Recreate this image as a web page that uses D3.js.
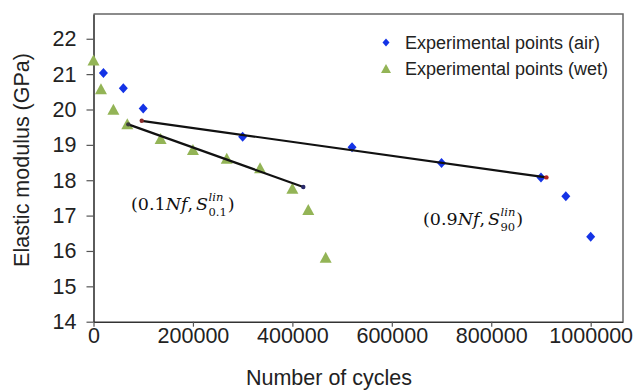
<!DOCTYPE html>
<html>
<head>
<meta charset="utf-8">
<script src="https://cdn.jsdelivr.net/npm/d3@7/dist/d3.min.js"></script>
<style>
  html, body { margin: 0; padding: 0; background: #fff; }
  svg { display: block; }
  .tick text { font-family: "Liberation Sans", Arial, sans-serif; fill: #222; }
</style>
</head>
<body>
<svg id="chart" width="636" height="392"></svg>
<script>
// Elastic modulus measured over fatigue cycles, in air and wet conditions
const airCycles  = [20000, 60000, 100000, 300000, 520000, 700000, 900000, 950000, 1000000];
const airModulus = [21.03, 20.60, 20.03, 19.23, 18.93, 18.49, 18.08, 17.55, 16.40];

const wetCycles  = [0, 15000, 40000, 68000, 135000, 200000, 268000, 335000, 400000, 432000, 467000];
const wetModulus = [21.40, 20.59, 20.01, 19.60, 19.18, 18.87, 18.62, 18.35, 17.77, 17.17, 15.82];

// Linear segments between the 10% and 90% life points
const airFitCycles  = [97000, 911000];
const airFitModulus = [19.68, 18.08];
const wetFitCycles  = [70000, 422000];
const wetFitModulus = [19.58, 17.81];

const xTicks = [0, 200000, 400000, 600000, 800000, 1000000];
const yTicks = [14, 15, 16, 17, 18, 19, 20, 21, 22];

const legendLabels = ["Experimental points (air)", "Experimental points (wet)"];

const svg = d3.select("#chart");
const plot = { left: 93.5, right: 623, top: 14, bottom: 321.7 };

const x = d3.scaleLinear().domain([0, 1065000]).range([plot.left, plot.right]);
const y = d3.scaleLinear().domain([14, 22.7]).range([plot.bottom, plot.top]);

// plot frame (top and right edges)
svg.append("path")
  .attr("d", `M${plot.left},${plot.top}H${plot.right}V${plot.bottom}`)
  .attr("fill", "none").attr("stroke", "#666").attr("stroke-width", 1.5);

// axes
const xAxis = svg.append("g")
  .attr("transform", `translate(0,${plot.bottom})`)
  .call(d3.axisBottom(x).tickValues(xTicks).tickFormat(d3.format("d"))
    .tickSize(5).tickSizeOuter(0).tickPadding(1));
const yAxis = svg.append("g")
  .attr("transform", `translate(${plot.left},0)`)
  .call(d3.axisLeft(y).tickValues(yTicks).tickFormat(d3.format("d"))
    .tickSize(7).tickSizeOuter(0).tickPadding(10));

[xAxis, yAxis].forEach(g => {
  g.select(".domain").attr("stroke", "#333").attr("stroke-width", 1.6);
  g.selectAll(".tick line").attr("stroke", "#555").attr("stroke-width", 1.2);
  g.selectAll(".tick text").style("font-size", "21.5px");
});

// axis titles
svg.append("text")
  .attr("x", 329).attr("y", 385)
  .attr("text-anchor", "middle")
  .style("font-family", "Liberation Sans, Arial, sans-serif")
  .style("font-size", "21.5px").attr("fill", "#222")
  .text("Number of cycles");
svg.append("text")
  .attr("transform", "translate(29,160) rotate(-90)")
  .attr("text-anchor", "middle")
  .style("font-family", "Liberation Sans, Arial, sans-serif")
  .style("font-size", "21.5px").attr("fill", "#222")
  .text("Elastic modulus (GPa)");

// marker shapes
const diamond = (w, h) => `M0,${-h/2}L${w/2},0L0,${h/2}L${-w/2},0Z`;
const triangle = (w, h) => `M0,${-h/2}L${w/2},${h/2}L${-w/2},${h/2}Z`;
const airColor = "#1433e6";
const wetColor = "#93b456";

svg.append("g").selectAll("path")
  .data(wetCycles.map((c, i) => [c, wetModulus[i]]))
  .join("path")
  .attr("transform", d => `translate(${x(d[0])},${y(d[1])})`)
  .attr("d", triangle(12, 11))
  .attr("fill", wetColor);

svg.append("g").selectAll("path")
  .data(airCycles.map((c, i) => [c, airModulus[i]]))
  .join("path")
  .attr("transform", d => `translate(${x(d[0])},${y(d[1])})`)
  .attr("d", diamond(9, 10))
  .attr("fill", airColor);

// linear segments
const line = d3.line().x(d => x(d[0])).y(d => y(d[1]));
const fits = [
  { pts: airFitCycles.map((c, i) => [c, airFitModulus[i]]), ends: ["#8a2b2b", "#b02020"] },
  { pts: wetFitCycles.map((c, i) => [c, wetFitModulus[i]]), ends: ["#3a3a3a", "#2a2a6a"] }
];
fits.forEach(f => {
  svg.append("path").attr("d", line(f.pts))
    .attr("fill", "none").attr("stroke", "#111").attr("stroke-width", 2.2);
  svg.append("g").selectAll("circle").data(f.pts).join("circle")
    .attr("cx", d => x(d[0])).attr("cy", d => y(d[1])).attr("r", 2.2)
    .attr("fill", (d, i) => f.ends[i]);
});

// legend
const legend = svg.append("g");
const legendShapes = [diamond(7, 8), triangle(10, 9)];
const legendColors = [airColor, wetColor];
legendLabels.forEach((lab, i) => {
  const ly = 42.5 + i * 26;
  legend.append("path").attr("transform", `translate(386,${ly})`)
    .attr("d", legendShapes[i]).attr("fill", legendColors[i]);
  legend.append("text").attr("x", 405).attr("y", ly + 6.5)
    .style("font-family", "Liberation Sans, Arial, sans-serif")
    .style("font-size", "18px").attr("fill", "#222")
    .text(lab);
});

// point annotations (0.1Nf, S^lin_0.1) and (0.9Nf, S^lin_90)
const mathFont = "DejaVu Serif, serif";
function mathLabel(x0, y0, frac, sub) {
  const g = svg.append("g").attr("transform", `translate(${x0},${y0})`)
    .style("font-family", mathFont).attr("fill", "#111");
  const main = g.append("text").style("font-size", "17.5px");
  main.append("tspan").text("(" + frac);
  main.append("tspan").style("font-style", "italic").text("Nf");
  main.append("tspan").text(",");
  main.append("tspan").attr("dx", 3).style("font-style", "italic").text("S");
  const w = main.node().getComputedTextLength() + 3;
  const sup = g.append("text").attr("x", w + 0.5).attr("y", -9)
    .style("font-size", "11.5px").style("font-style", "italic").text("lin");
  const sb = g.append("text").attr("x", w + 0.5).attr("y", 5.5)
    .style("font-size", "11.5px").text(sub);
  const w2 = Math.max(sup.node().getComputedTextLength(), sb.node().getComputedTextLength());
  g.append("text").attr("x", w + w2 + 1.5).style("font-size", "17.5px").text(")");
}
mathLabel(131, 210, "0.1", "0.1");
mathLabel(423, 225, "0.9", "90");
</script>
</body>
</html>
